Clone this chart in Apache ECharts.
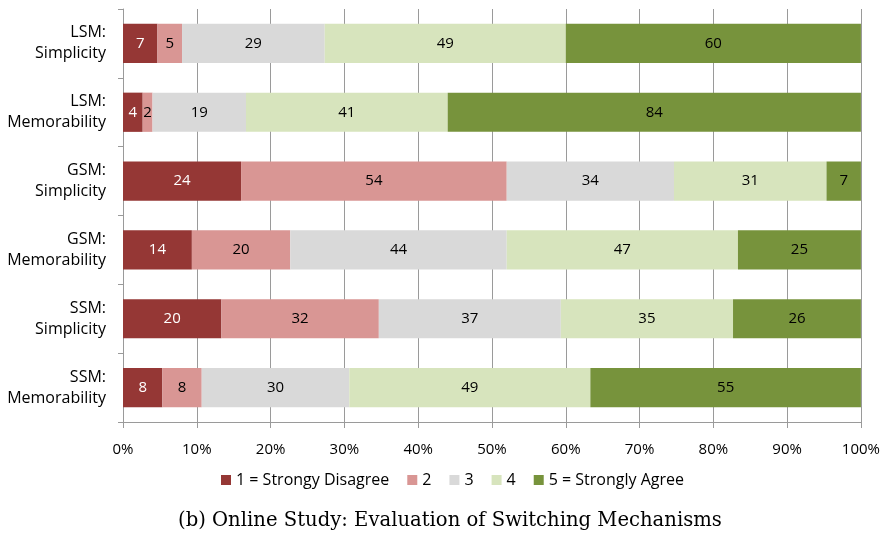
<!DOCTYPE html>
<html><head><meta charset="utf-8">
<script src="https://cdn.jsdelivr.net/npm/echarts@6/dist/echarts.min.js"></script>
<style>html,body{margin:0;padding:0;background:#fff}#c{width:883px;height:539px}</style>
</head><body><div id="c"></div>
<script>
const categories = ["LSM:\nSimplicity","LSM:\nMemorability","GSM:\nSimplicity","GSM:\nMemorability","SSM:\nSimplicity","SSM:\nMemorability"];
const seriesNames = ["1 = Strongy Disagree","2","3","4","5 = Strongly Agree"];
const s1 = [7,4,24,14,20,8];
const s2 = [5,2,54,20,32,8];
const s3 = [29,19,34,44,37,30];
const s4 = [49,41,31,47,35,49];
const s5 = [60,84,7,25,26,55];
const colors = ["#953735","#D99694","#D9D9D9","#D7E4BD","#77933C"];
const labelColors = ["#ffffff","#000000","#000000","#000000","#000000"];
const tickLabels = ["0%","10%","20%","30%","40%","50%","60%","70%","80%","90%","100%"];

const all = [s1,s2,s3,s4,s5];
const totals = categories.map((_,i)=>all.reduce((a,s)=>a+s[i],0));
const font = "'Open Sans', 'Liberation Sans', sans-serif";

const chart = echarts.init(document.getElementById('c'), null, {renderer:'canvas'});
chart.setOption({
  animation:false,
  backgroundColor:'#fff',
  grid:{left:123,right:20,top:9,bottom:117,containLabel:false},
  legend:{
    top:467, left:216,
    itemWidth:10,itemHeight:10,itemGap:18,
    icon:'rect',
    textStyle:{fontFamily:font,fontSize:16,color:'#000'},
    data:seriesNames
  },
  xAxis:{
    type:'value',min:0,max:100,interval:10,
    axisLine:{show:true,lineStyle:{color:'#9a9a9a'}},
    axisTick:{show:true,length:6,lineStyle:{color:'#9a9a9a'}},
    splitLine:{show:true,lineStyle:{color:'#9a9a9a',width:1}},
    axisLabel:{fontFamily:font,fontSize:15,color:'#000',margin:20,
      formatter:(v)=>tickLabels[Math.round(v/10)]}
  },
  yAxis:{
    type:'category',inverse:true,data:categories,
    axisLine:{show:true,lineStyle:{color:'#9a9a9a'}},
    axisTick:{show:true,length:5,lineStyle:{color:'#9a9a9a'}},
    axisLabel:{fontFamily:font,fontSize:16,color:'#000',margin:17,align:'right',lineHeight:21}
  },
  series: all.map((s,k)=>({
    name:seriesNames[k],type:'bar',stack:'t',barCategoryGap:'43%',
    itemStyle:{color:colors[k]},
    label:{show:true,position:'inside',color:labelColors[k],fontFamily:font,fontSize:15,
      formatter:(p)=>String(s[p.dataIndex])},
    data:s.map((v,i)=>v/totals[i]*100)
  })),
  graphic:[{
    type:'text',left:178,top:511,
    style:{text:'(b) Online Study: Evaluation of Switching Mechanisms',
      font:"19.6px 'DejaVu Serif', serif",fill:'#000'}
  }]
});
</script></body></html>
